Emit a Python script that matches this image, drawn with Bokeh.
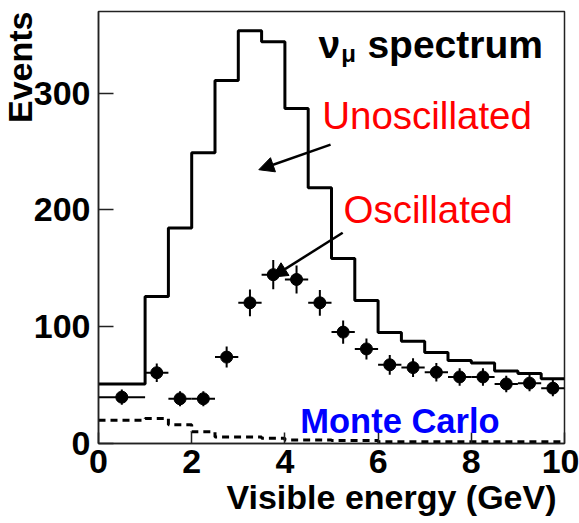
from bokeh.plotting import figure
from bokeh.models import Range1d, Label, Arrow, NormalHead, FixedTicker, Title
from bokeh.embed import file_html
from bokeh.resources import INLINE

# ---- data ----
# unoscillated expectation (solid histogram): bin edges and contents
unosc_edges = [0, 1, 1.5, 2, 2.5, 3, 3.5, 4, 4.5, 5, 5.5, 6, 6.5, 7, 7.5, 8, 8.5, 9, 9.5, 10]
unosc_counts = [51, 126, 184.5, 249, 311, 353.5, 344, 287, 219, 158.5, 122.5, 95, 87.5, 78, 71, 69, 62, 60, 55.5]

# Monte Carlo background (dashed histogram)
mc_edges = [0, 0.5, 1, 1.5, 2, 2.5, 3, 3.5, 4, 4.5, 5, 5.5, 6, 6.5, 7, 7.5, 8, 8.5, 9, 9.5, 10]
mc_counts = [20, 20, 21.5, 16, 10, 5.5, 5.5, 4.5, 3, 3, 2.5, 2.5, 1.5, 1.5, 1.5, 1.5, 1.5, 1.5, 1.5, 1.5]

# oscillated data points
osc_x = [0.5, 1.25, 1.75, 2.25, 2.75, 3.25, 3.75, 4.25, 4.75, 5.25, 5.75, 6.25, 6.75, 7.25, 7.75, 8.25, 8.75, 9.25, 9.75]
osc_y = [39.7, 60.6, 38.3, 38.3, 74, 120.5, 144.6, 140.5, 120.5, 95.4, 81, 67.4, 65, 61, 57, 57, 51, 51.7, 47.4]
osc_yerr = [6.5, 8, 6.5, 6.5, 9, 11.5, 12.5, 12, 11, 10, 9, 8.5, 8, 8, 7.5, 7.5, 7, 7, 7]
osc_xerr = [0.5, 0.25, 0.25, 0.25, 0.25, 0.25, 0.25, 0.25, 0.25, 0.25, 0.25, 0.25, 0.25, 0.25, 0.25, 0.25, 0.25, 0.25, 0.25]

x_ticks = [0, 2, 4, 6, 8, 10]
y_ticks = [0, 100, 200, 300]

FONT = "Liberation Sans"
AX = "#222222"

p = figure(width=579, height=523, output_backend="svg", toolbar_location=None,
           x_range=Range1d(0, 10), y_range=Range1d(0, 370),
           min_border_left=98, min_border_right=15, min_border_top=11, min_border_bottom=80)
p.grid.visible = False
p.background_fill_color = "white"
p.border_fill_color = "white"
p.outline_line_color = AX
p.outline_line_width = 1.5

for ax, ticks, tin in ((p.xaxis[0], x_ticks, 11), (p.yaxis[0], y_ticks, 15)):
    ax.ticker = FixedTicker(ticks=ticks)
    ax.minor_tick_line_color = None
    ax.major_tick_in = tin
    ax.major_tick_out = 0
    ax.major_tick_line_width = 1.5
    ax.major_tick_line_color = AX
    ax.axis_line_color = AX
    ax.axis_line_width = 1.5
    ax.major_label_text_font = FONT
    ax.major_label_text_font_style = "bold"
    ax.major_label_text_font_size = "34px"
    ax.major_label_text_color = "black"
p.xaxis.major_label_standoff = 6
p.yaxis.major_label_standoff = 8

# axis titles (right / top aligned, as in the original)
p.add_layout(Title(text="Visible energy (GeV)", align="right", offset=8, standoff=0,
                   text_font=FONT, text_font_style="bold", text_font_size="34px",
                   text_color="black"), "below")
p.add_layout(Title(text="Events", align="right", offset=0, standoff=-17,
                   text_font=FONT, text_font_style="bold", text_font_size="34px",
                   text_color="black"), "left")

# solid histogram (unoscillated)
p.step(unosc_edges, unosc_counts + [unosc_counts[-1]], mode="after",
       line_color="black", line_width=3)

# dashed histogram (MC)
p.step(mc_edges, mc_counts + [mc_counts[-1]], mode="after",
       line_color="black", line_width=3, line_dash="7 5")

# data points with error bars
p.segment(x0=osc_x, y0=[y - e for y, e in zip(osc_y, osc_yerr)],
          x1=osc_x, y1=[y + e for y, e in zip(osc_y, osc_yerr)],
          line_color="black", line_width=2)
p.segment(x0=[x - e for x, e in zip(osc_x, osc_xerr)], y0=osc_y,
          x1=[x + e for x, e in zip(osc_x, osc_xerr)], y1=osc_y,
          line_color="black", line_width=2)
p.scatter(osc_x, osc_y, size=12, marker="circle", fill_color="black", line_color="black")

# arrows
p.add_layout(Arrow(end=NormalHead(size=15, fill_color="black", line_color="black", line_width=1),
                   x_start=4.98, y_start=256, x_end=3.44, y_end=234.5,
                   line_color="black", line_width=2.5))
p.add_layout(Arrow(end=NormalHead(size=15, fill_color="black", line_color="black", line_width=1),
                   x_start=5.24, y_start=180.5, x_end=3.73, y_end=142.5,
                   line_color="black", line_width=2.5))

# texts
def lab(x, y, text, size, color="black", style="normal", align="left"):
    p.add_layout(Label(x=x, y=y, text=text, text_font=FONT, text_font_size=size,
                       text_color=color, text_font_style=style, text_align=align,
                       text_baseline="alphabetic"))

lab(4.72, 342, "ν", "39px", style="bold")
lab(5.21, 334, "μ", "24px", style="bold")
lab(5.77, 342, "spectrum", "39px", style="bold")
lab(4.80, 281, "Unoscillated", "38.5px", color="#ff0000")
lab(5.26, 200, "Oscillated", "38.5px", color="#ff0000")
lab(4.33, 19, "Monte Carlo", "34.5px", color="#0000ff", style="bold")

open("out.html", "w").write(file_html(p, INLINE))
